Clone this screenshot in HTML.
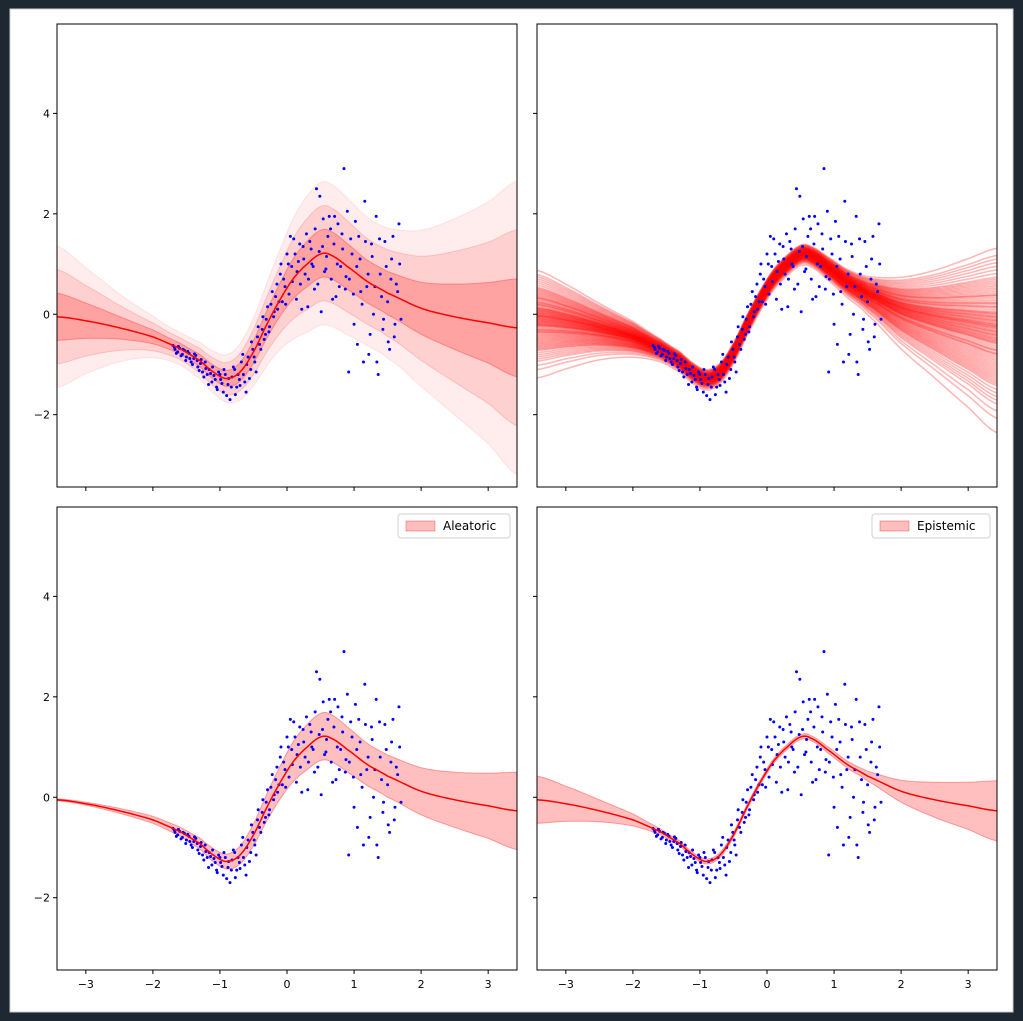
<!DOCTYPE html>
<html><head><meta charset="utf-8">
<style>
html,body{margin:0;padding:0;background:#1e2833;}
svg{display:block;font-family:"DejaVu Sans","Liberation Sans",sans-serif;}
</style></head>
<body>
<svg id="fig" width="1023" height="1021" xmlns="http://www.w3.org/2000/svg">
<rect x="0" y="0" width="1023" height="1021" fill="#1e2833"/>
<rect x="10" y="9" width="1003" height="1003" fill="#ffffff" stroke="#cccccc" stroke-width="1"/>
</svg>
<script>
const knotX = [-3.43,-3,-2.5,-2,-1.6,-1.3,-1.1,-0.9,-0.7,-0.5,-0.3,-0.1,0.1,0.3,0.5,0.65,0.9,1.2,1.5,2,2.5,3,3.43];
const meanY = [-0.05,-0.13,-0.27,-0.45,-0.68,-0.92,-1.15,-1.28,-1.15,-0.75,-0.2,0.3,0.72,1.0,1.2,1.18,0.95,0.65,0.42,0.12,-0.05,-0.17,-0.27];
const aleStd = [0.02,0.03,0.05,0.07,0.09,0.11,0.13,0.15,0.18,0.22,0.27,0.33,0.4,0.45,0.47,0.47,0.45,0.42,0.42,0.47,0.55,0.65,0.77];
const epiStd = [0.47,0.35,0.22,0.12,0.06,0.05,0.05,0.05,0.05,0.05,0.05,0.05,0.05,0.05,0.05,0.05,0.06,0.07,0.1,0.22,0.35,0.47,0.6];
const sampleSpread = [0.42,0.33,0.22,0.14,0.09,0.08,0.08,0.08,0.08,0.08,0.08,0.08,0.08,0.08,0.08,0.08,0.09,0.11,0.15,0.28,0.42,0.58,0.72];
const dataX = [-1.70,-1.67,-1.63,-1.60,-1.56,-1.53,-1.50,-1.46,-1.43,-1.39,-1.36,-1.33,-1.29,-1.26,-1.22,-1.19,-1.16,-1.12,-1.09,-1.05,-1.02,-0.99,-0.95,-0.92,-0.88,-0.85,-0.82,-0.78,-0.75,-0.71,-0.68,-0.65,-0.61,-0.58,-0.54,-0.51,-0.48,-0.44,-0.41,-0.37,-0.34,-0.31,-0.27,-0.24,-0.20,-0.17,-0.14,-0.10,-0.07,-0.03,0.00,0.03,0.07,0.10,0.14,0.17,0.20,0.24,0.27,0.31,0.34,0.37,0.41,0.44,0.48,0.51,0.54,0.58,0.61,0.65,0.68,0.71,0.75,0.78,0.82,0.85,0.88,0.92,0.95,0.99,1.02,1.05,1.09,1.12,1.16,1.19,1.22,1.26,1.29,1.33,1.36,1.39,1.43,1.46,1.50,1.53,1.56,1.60,1.63,1.67,1.70,
-1.68,-1.65,-1.62,-1.58,-1.55,-1.51,-1.48,-1.45,-1.41,-1.38,-1.34,-1.31,-1.28,-1.24,-1.21,-1.17,-1.14,-1.11,-1.07,-1.04,-1.00,-0.97,-0.94,-0.90,-0.87,-0.83,-0.80,-0.77,-0.73,-0.70,-0.66,-0.63,-0.60,-0.56,-0.53,-0.49,-0.46,-0.43,-0.39,-0.36,-0.32,-0.29,-0.26,-0.22,-0.19,-0.15,-0.12,-0.09,-0.05,-0.02,0.02,0.05,0.08,0.12,0.15,0.19,0.22,0.25,0.29,0.32,0.36,0.39,0.42,0.46,0.49,0.53,0.56,0.59,0.63,0.66,0.70,0.73,0.76,0.80,0.83,0.87,0.90,0.93,0.97,1.00,1.04,1.07,1.10,1.14,1.17,1.21,1.24,1.27,1.31,1.34,1.38,1.41,1.44,1.48,1.51,1.55,1.58,1.61,1.65,1.68];
const dataY = [-0.62,-0.70,-0.75,-0.68,-0.80,-0.72,-0.85,-0.78,-0.95,-0.88,-0.82,-1.05,-0.98,-1.15,-0.95,-1.20,-1.10,-1.35,-1.22,-1.45,-1.15,-1.30,-1.55,-1.20,-1.40,-1.70,-1.25,-1.10,-1.45,-1.30,-0.95,-1.20,-1.55,-0.85,-1.10,-0.70,-0.95,-0.45,-0.60,-0.30,-0.50,-0.10,-0.35,0.20,-0.05,0.35,0.10,0.80,0.25,0.55,1.20,0.40,0.95,1.50,0.30,1.05,0.60,1.35,0.80,0.15,1.45,1.00,0.50,2.50,1.25,0.05,1.90,0.90,1.55,1.70,0.30,1.95,1.00,0.55,1.60,2.90,0.75,-1.15,1.50,0.40,1.85,-0.60,1.10,0.20,2.25,0.55,-0.80,1.40,0.00,1.95,-1.20,0.80,-0.30,1.45,0.25,-0.70,1.10,-0.45,0.60,1.80,-0.10,
-0.66,-0.78,-0.64,-0.83,-0.70,-0.92,-0.74,-0.88,-1.00,-0.79,-0.92,-1.12,-0.90,-1.25,-1.08,-1.40,-1.18,-1.05,-1.30,-1.50,-1.20,-1.38,-1.10,-1.62,-1.28,-1.45,-1.05,-1.60,-1.20,-1.42,-0.80,-1.35,-1.00,-1.28,-0.55,-0.85,-1.15,-0.25,-0.70,-0.05,-0.40,0.15,-0.25,0.45,0.05,0.60,0.25,1.00,0.70,0.20,1.00,1.55,0.65,1.20,0.85,1.40,0.10,1.10,1.60,0.70,1.30,0.95,1.70,0.60,2.35,1.35,0.85,1.15,1.95,0.70,1.40,0.35,1.80,0.95,1.30,0.50,2.05,0.70,1.20,-0.20,0.95,1.55,0.45,-0.95,1.45,0.80,-0.40,1.15,0.55,-0.95,1.50,0.35,-0.10,0.95,-0.55,0.70,1.55,-0.20,0.45,1.00];
const sampleZ = [-2.9,-2.5,-2.3,-2.1,-2.0,-1.9,-1.8,-1.7,-1.6,-1.55,-1.5,-1.4,-1.35,-1.3,-1.25,-1.2,-1.15,-1.1,-1.0,-0.95,-0.9,-0.85,-0.8,-0.75,-0.7,-0.65,-0.6,-0.55,-0.5,-0.45,-0.4,-0.38,-0.35,-0.3,-0.28,-0.25,-0.2,-0.18,-0.15,-0.1,-0.08,-0.05,0,0.02,0.05,0.08,0.1,0.15,0.18,0.2,0.25,0.28,0.3,0.35,0.38,0.4,0.45,0.5,0.55,0.6,0.65,0.7,0.75,0.8,0.85,0.9,0.95,1.0,1.1,1.15,1.2,1.25,1.3,1.4,1.5,1.6,1.7,1.8,1.9,2.0,2.2,-1.05,-0.62,-0.33,-0.12,0.12,0.32,0.58,0.9,1.35,-0.72,-0.22,0.42,0.05,-0.42,0.68,-1.45,1.05,-0.02,0.22];
const xTicks = [-3,-2,-1,0,1,2,3];
const yTicks = [-2,0,2,4];

const NS="http://www.w3.org/2000/svg";
const fig=document.getElementById('fig');
function mk(tag,attrs,parent){const e=document.createElementNS(NS,tag);for(const k in attrs)e.setAttribute(k,attrs[k]);(parent||fig).appendChild(e);return e;}
function interp(arr,x){
  let i=0;while(i<knotX.length-2&&x>knotX[i+1])i++;
  const x0=knotX[i],x1=knotX[i+1],t=(x-x0)/(x1-x0);
  const p0=arr[Math.max(i-1,0)],p1=arr[i],p2=arr[i+1],p3=arr[Math.min(i+2,arr.length-1)];
  const t2=t*t,t3=t2*t;
  return 0.5*((2*p1)+(-p0+p2)*t+(2*p0-5*p1+4*p2-p3)*t2+(-p0+3*p1-3*p2+p3)*t3);
}
const XMIN=-3.43,XMAX=3.43,YMIN=-3.44,YMAX=5.78;
const fine=[];for(let i=0;i<=200;i++)fine.push(XMIN+(XMAX-XMIN)*i/200);

const panels=[{x:57,y:24,name:'total-uncertainty',yl:true,xl:false},{x:537,y:24,name:'posterior-samples',yl:false,xl:false},
{x:57,y:507,name:'aleatoric-uncertainty',yl:true,xl:true,leg:'Aleatoric'},{x:537,y:507,name:'epistemic-uncertainty',yl:false,xl:true,leg:'Epistemic'}];
const W=460,H=463;
panels.forEach((p,pi)=>{
  const sx=v=>p.x+(v-XMIN)/(XMAX-XMIN)*W;
  const sy=v=>p.y+H-(v-YMIN)/(YMAX-YMIN)*H;
  const g=mk('g',{});
  
  
  const cid='clip'+pi;
  const cp=mk('clipPath',{id:cid},g);mk('rect',{x:p.x,y:p.y,width:W,height:H},cp);
  const pg=mk('g',{'clip-path':'url(#'+cid+')'},g);
  function band(sdFn,k,alpha,name){
    let d='';fine.forEach((x,i)=>{d+=(i?'L':'M')+sx(x).toFixed(2)+','+sy(interp(meanY,x)+k*sdFn(x)).toFixed(2);});
    for(let i=fine.length-1;i>=0;i--){const x=fine[i];d+='L'+sx(x).toFixed(2)+','+sy(interp(meanY,x)-k*sdFn(x)).toFixed(2);}
    const b=mk('path',{d:d+'Z',fill:'rgba(255,0,0,'+alpha+')',stroke:'rgba(255,0,0,'+Math.min(alpha*1.3,0.35)+')','stroke-width':1},pg);
    
    
  }
  const tot=x=>Math.sqrt(interp(aleStd,x)**2+interp(epiStd,x)**2);
  if(pi===0){band(tot,3,0.07,'band-3-sigma');band(tot,2,0.12,'band-2-sigma');band(tot,1,0.22,'band-1-sigma');}
  if(pi===2)band(x=>interp(aleStd,x),1,0.25,'aleatoric-band');
  if(pi===3)band(x=>interp(epiStd,x),1,0.25,'epistemic-band');
  if(pi===1){
    sampleZ.forEach(z=>{let d='';fine.forEach((x,i)=>{d+=(i?'L':'M')+sx(x).toFixed(2)+','+sy(interp(meanY,x)+z*interp(sampleSpread,x)).toFixed(2);});
      const l=mk('path',{d:d,fill:'none',stroke:'rgba(255,0,0,0.28)','stroke-width':1.6},pg);
      
      });
  }
  dataX.forEach((x,i)=>{const c=mk('circle',{cx:sx(x),cy:sy(dataY[i]),r:1.5,fill:'#0000ff'},pg);
    
    });
  if(pi!==1){
    let d='';fine.forEach((x,i)=>{d+=(i?'L':'M')+sx(x).toFixed(2)+','+sy(interp(meanY,x)).toFixed(2);});
    const l=mk('path',{d:d,fill:'none',stroke:'#ff0000','stroke-width':1.5},pg);
    
    
  }
  const fr=mk('rect',{x:p.x,y:p.y,width:W,height:H,fill:'none',stroke:'#000','stroke-width':1},g);
  
  
  xTicks.forEach(t=>{const X=sx(t);mk('line',{x1:X,x2:X,y1:p.y+H,y2:p.y+H+4,stroke:'#000'},g);
    if(p.xl){const tx=mk('text',{x:X,y:p.y+H+18,'text-anchor':'middle','font-size':11,fill:'#000'},g);tx.textContent=t<0?'\u2212'+(-t):String(t);
      
      }});
  yTicks.forEach(t=>{const Y=sy(t);mk('line',{x1:p.x-4,x2:p.x,y1:Y,y2:Y,stroke:'#000'},g);
    if(p.yl){const tx=mk('text',{x:p.x-7,y:Y+4,'text-anchor':'end','font-size':11,fill:'#000'},g);tx.textContent=t<0?'\u2212'+(-t):String(t);
      
      }});
  if(p.leg){
    const lg=mk('g',{},g);
    
    
    const lw=p.leg==='Aleatoric'?112:118;
    const lx=p.x+W-7-lw;
    mk('rect',{x:lx,y:p.y+7,width:lw,height:24,rx:3,fill:'#fff',stroke:'#d0d0d0'},lg);
    mk('rect',{x:lx+8,y:p.y+14,width:29,height:10,fill:'rgba(255,0,0,0.25)',stroke:'rgba(255,0,0,0.33)'},lg);
    const tx=mk('text',{x:lx+45,y:p.y+23,'font-size':12,fill:'#000'},lg);tx.textContent=p.leg;
  }
});
</script>
</body></html>
